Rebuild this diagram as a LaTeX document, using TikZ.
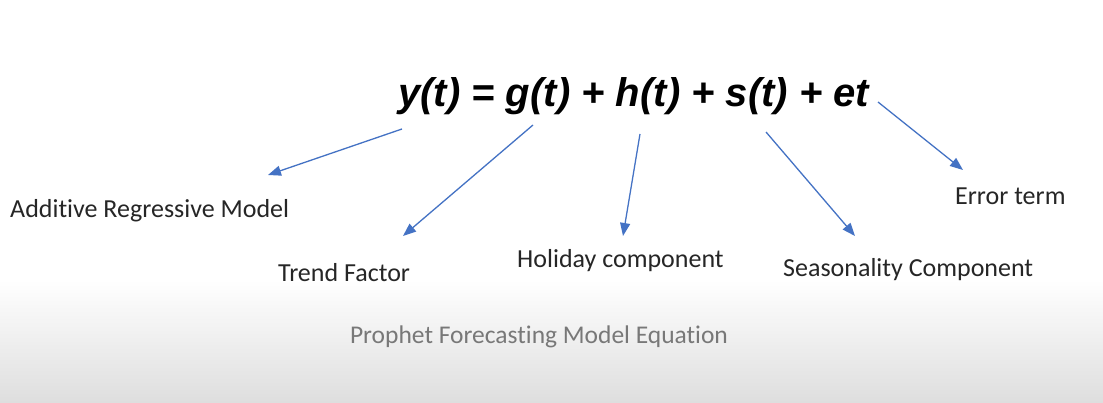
\documentclass[tikz,border=0pt]{standalone}
\usepackage{fontspec}
\setmainfont{Carlito}[Ligatures=NoCommon]
\newfontfamily\eqfont{Liberation Sans}
\usetikzlibrary{arrows.meta}
\definecolor{arrowblue}{RGB}{68,114,196}
\definecolor{labelgray}{RGB}{38,38,38}
\definecolor{captiongray}{RGB}{120,120,120}
\tikzset{
  label text/.style={inner sep=0pt, anchor=base west, text=labelgray,
    font=\fontsize{26}{30}\selectfont},
  pointer/.style={->, arrowblue, line width=1.3pt}
}
\begin{document}
\begin{tikzpicture}[x=1pt, y=-1pt, >={Triangle[length=13pt,width=10pt]}]
\useasboundingbox (0,0) rectangle (1103,403);
% background
\fill[white] (0,0) rectangle (1103,280);
\shade[top color=white, bottom color=black!13] (0,280) rectangle (1103,403);
% equation
\node[inner sep=0pt, anchor=base west, font=\eqfont\bfseries\itshape\fontsize{40}{44}\selectfont]
  (eq) at (398,107) {y(t) = g(t) + h(t) + s(t) + et};
% labels
\node[label text] (additive) at (10,218) {Additive Regressive Model};
\node[label text] (trend) at (278,282) {Trend Factor};
\node[label text] (holiday) at (517,268) {Holiday component};
\node[label text] (season) at (783,277) {Seasonality Component};
\node[label text] (error) at (955,205) {Error term};
% arrow ends
\coordinate (y0) at (402,129);  \coordinate (y1) at (268,175);
\coordinate (g0) at (533,125);  \coordinate (g1) at (403,236);
\coordinate (h0) at (640,134);  \coordinate (h1) at (623,236);
\coordinate (s0) at (766,132);  \coordinate (s1) at (855,236);
\coordinate (e0) at (878,102);  \coordinate (e1) at (963,170);
\draw[pointer] (y0) -- (y1);
\draw[pointer] (g0) -- (g1);
\draw[pointer] (h0) -- (h1);
\draw[pointer] (s0) -- (s1);
\draw[pointer] (e0) -- (e1);
% caption
\node[inner sep=0pt, anchor=base, text=captiongray, font=\fontsize{25.5}{29}\selectfont]
  (caption) at (539,343) {Prophet Forecasting Model Equation};
\end{tikzpicture}
\end{document}
